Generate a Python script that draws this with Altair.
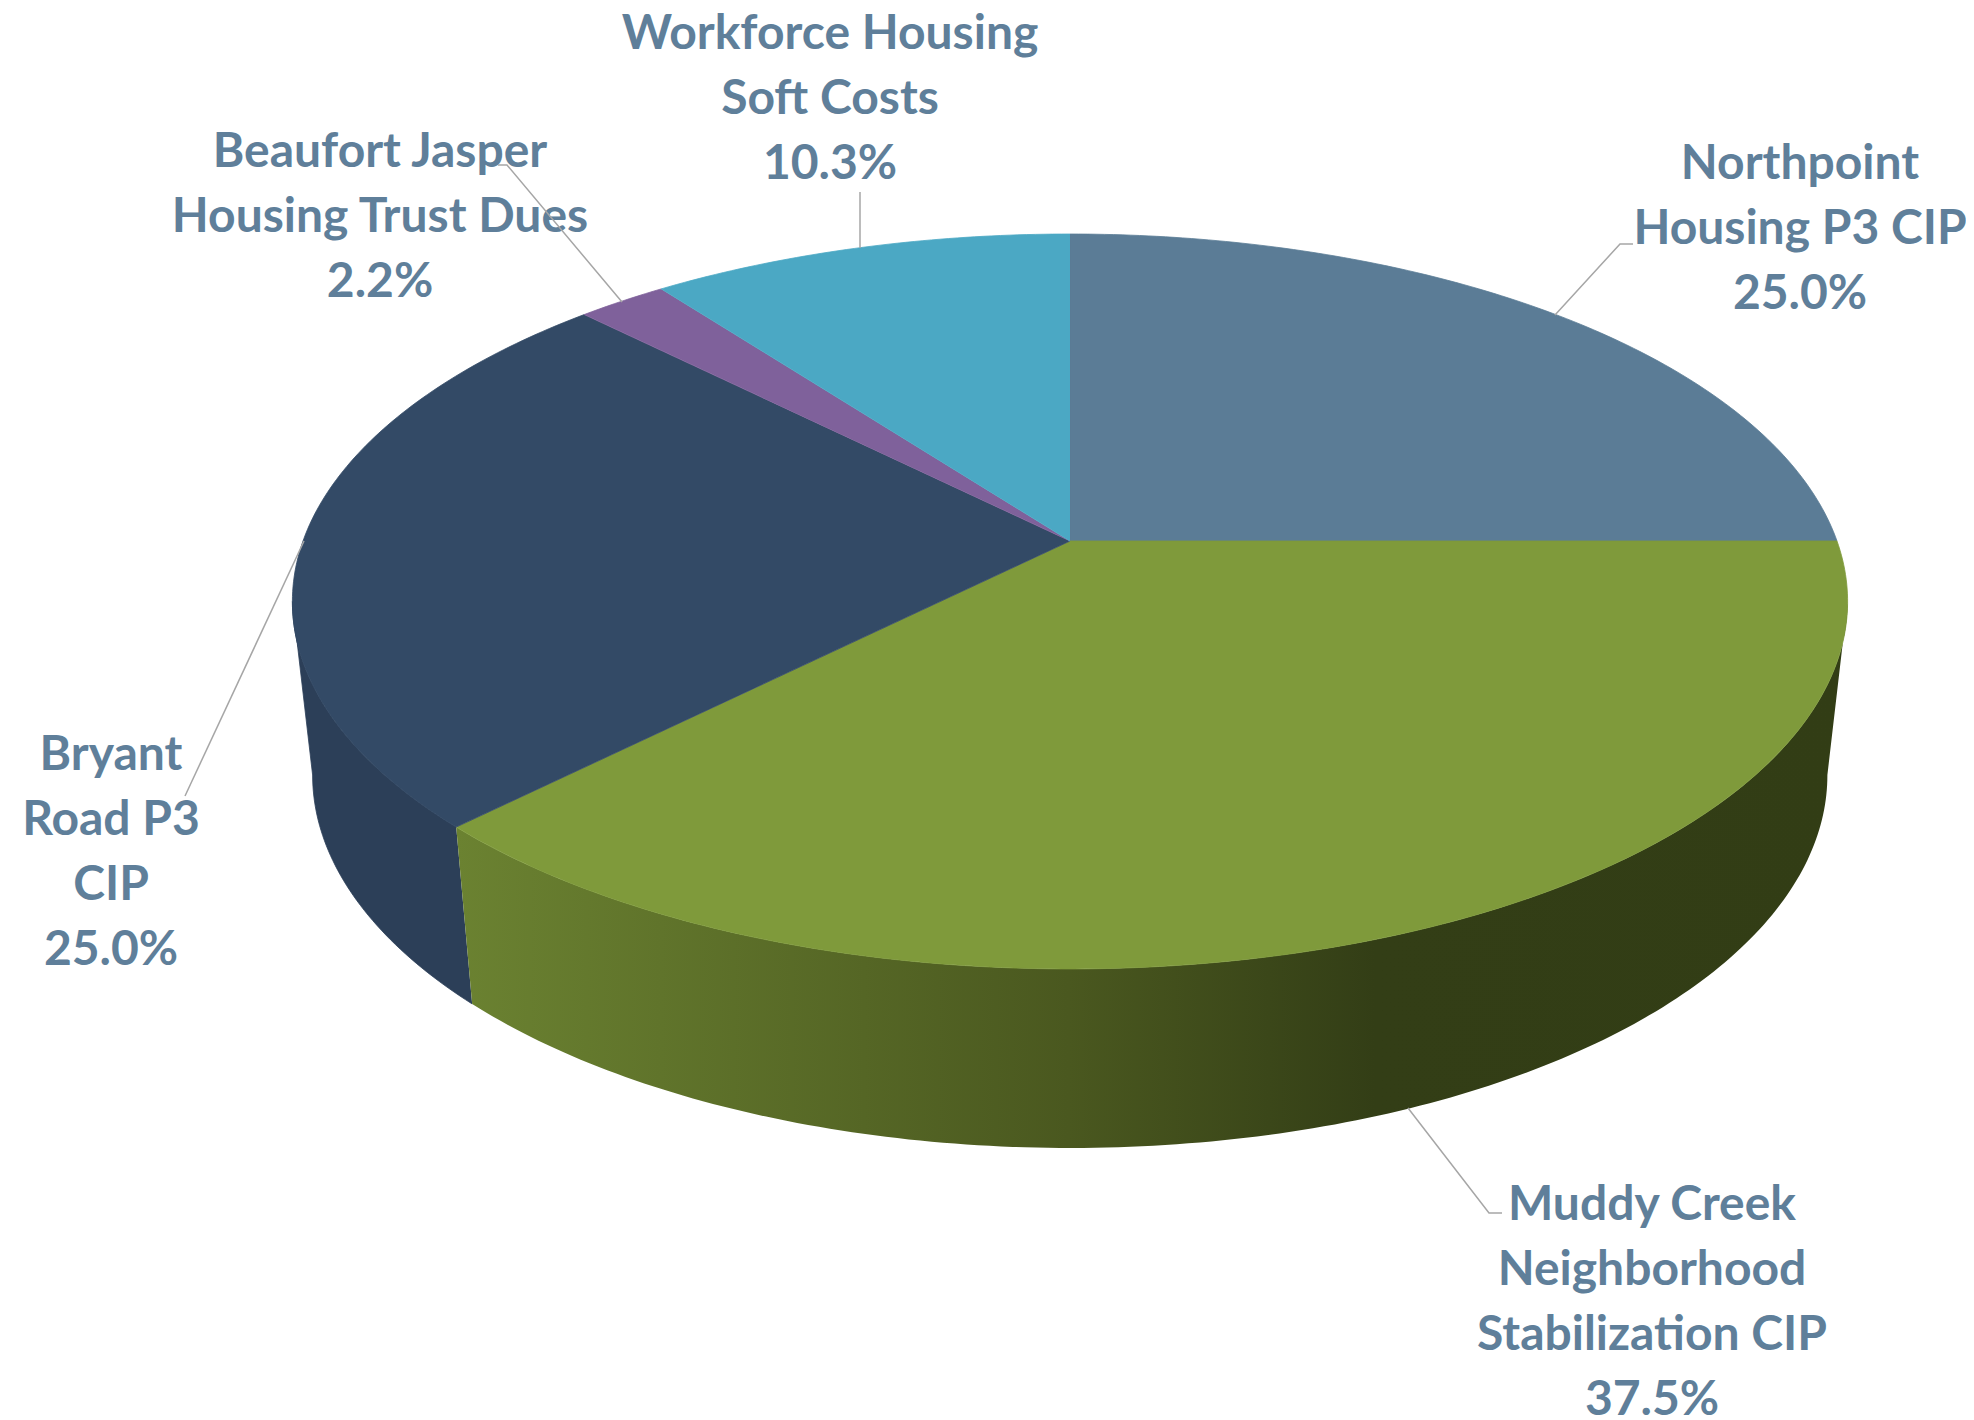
import math
import altair as alt
import pandas as pd

# ---- chart values ----
names = ["Northpoint\nHousing P3 CIP", "Muddy Creek\nNeighborhood\nStabilization CIP",
         "Bryant\nRoad P3\nCIP", "Beaufort Jasper\nHousing Trust Dues", "Workforce Housing\nSoft Costs"]
shares = [25.0, 37.5, 25.0, 2.2, 10.3]

# ---- styles ----
top_colors = ["#5B7C96", "#7F9A3B", "#334A66", "#7F619B", "#4BA8C4"]
text_color = "#5F7F9A"
leader_color = "#A6A6A6"

# ---- layout: projection of the tilted disc, in page pixels ----
CX, CY = 1070, 541          # projected pie centre
RX, RY, K = 767, 357.5, 0.1646
ELL_CY, ELL_RY = 601.5, 367.5
BOT_CY, BOT_SX, BOT_SY = 775, 0.974, 373 / 367.5

label_xy = [(1800, 165), (1652, 1206), (111, 756), (380, 153), (830, 35)]
leaders = [
    [(1555, 315), (1620, 244), (1633, 244)],
    [(1408, 1108), (1489, 1213), (1502, 1213)],
    [(304, 541), (185, 796)],
    [(622, 302), (507, 165), (498, 165)],
    [(860, 248), (860, 192)],
]
PAGE_W, PAGE_H = 1974, 1420
x_scale = alt.Scale(domain=[8, PAGE_W - 8], range=[0, PAGE_W - 16], nice=False, zero=False)
y_scale = alt.Scale(domain=[8, PAGE_H], range=[0, PAGE_H - 8], nice=False, zero=False)


def top_pt(a):
    d = 1 + K * math.sin(a)
    return CX + RX * math.cos(a) / d, CY - RY * math.sin(a) / d


def bot_pt(a):
    x, y = top_pt(a)
    return CX + BOT_SX * (x - CX), BOT_CY + BOT_SY * (y - ELL_CY)


def arc(fn, a0, a1):
    n = max(2, int(abs(a1 - a0) / math.radians(0.75)))
    return [fn(a0 + (a1 - a0) * i / n) for i in range(n + 1)]


def share_angle(cum):
    return math.pi / 2 - 2 * math.pi * cum / 100


def shape(points, fill):
    df = pd.DataFrame({"x": [p[0] for p in points], "y": [p[1] for p in points],
                       "i": list(range(len(points)))})
    kw = {"stroke": fill, "strokeWidth": 0.8} if isinstance(fill, str) else {"strokeWidth": 0}
    return alt.Chart(df).mark_line(fill=fill, filled=True, **kw).encode(
        x=alt.X("x:Q", scale=x_scale, axis=None),
        y=alt.Y("y:Q", scale=y_scale, axis=None),
        order="i:Q",
    )


edges = [0]
for s in shares:
    edges.append(edges[-1] + s)
angles = [share_angle(e) for e in edges]
tangent = math.asin(K)  # rim silhouette: sin(a) = -K

# side walls (only the visible part of the rim)
muddy_a0, muddy_a1 = -tangent, angles[2]
wall_muddy = arc(top_pt, muddy_a0, muddy_a1) + arc(bot_pt, muddy_a1, muddy_a0)
bryant_a0, bryant_a1 = angles[2], -math.pi + tangent
wall_bryant = arc(top_pt, bryant_a0, bryant_a1) + arc(bot_pt, bryant_a1, bryant_a0)

green_wall = alt.LinearGradient(
    gradient="linear", x1=0, x2=1, y1=0, y2=0,
    stops=[alt.GradientStop(offset=0, color="#6B8231"),
           alt.GradientStop(offset=0.44, color="#4A581F"),
           alt.GradientStop(offset=0.66, color="#333E16"),
           alt.GradientStop(offset=1, color="#323D15")],
)
layers = [shape(wall_bryant, "#2C3F58"), shape(wall_muddy, green_wall)]

for i, c in enumerate(top_colors):
    pts = [(CX, CY)] + arc(top_pt, angles[i], angles[i + 1])
    layers.append(shape(pts, c))

rows = []
for n, s, (x, y) in zip(names, shares, label_xy):
    rows.append({"label": f"{n}\n{s:.1f}%", "x": x, "y": y})
labels = alt.Chart(pd.DataFrame(rows)).mark_text(
    font="Lato", fontWeight=700, fontSize=48, color=text_color, lineBreak="\n",
    lineHeight=65, align="center", baseline="middle",
).encode(
    x=alt.X("x:Q", scale=x_scale, axis=None),
    y=alt.Y("y:Q", scale=y_scale, axis=None),
    text="label:N",
)
layers.append(labels)

for pts in leaders:
    df = pd.DataFrame({"x": [p[0] for p in pts], "y": [p[1] for p in pts], "i": list(range(len(pts)))})
    layers.append(alt.Chart(df).mark_line(color=leader_color, strokeWidth=1.5).encode(
        x=alt.X("x:Q", scale=x_scale, axis=None),
        y=alt.Y("y:Q", scale=y_scale, axis=None),
        order="i:Q",
    ))

chart = alt.layer(*layers).properties(
    width=PAGE_W - 16, height=PAGE_H - 8, padding=0,
    autosize=alt.AutoSizeParams(type="none"), background="white",
).configure_view(stroke=None)

chart.save("out.html", embed_options={"renderer": "svg", "actions": False})
